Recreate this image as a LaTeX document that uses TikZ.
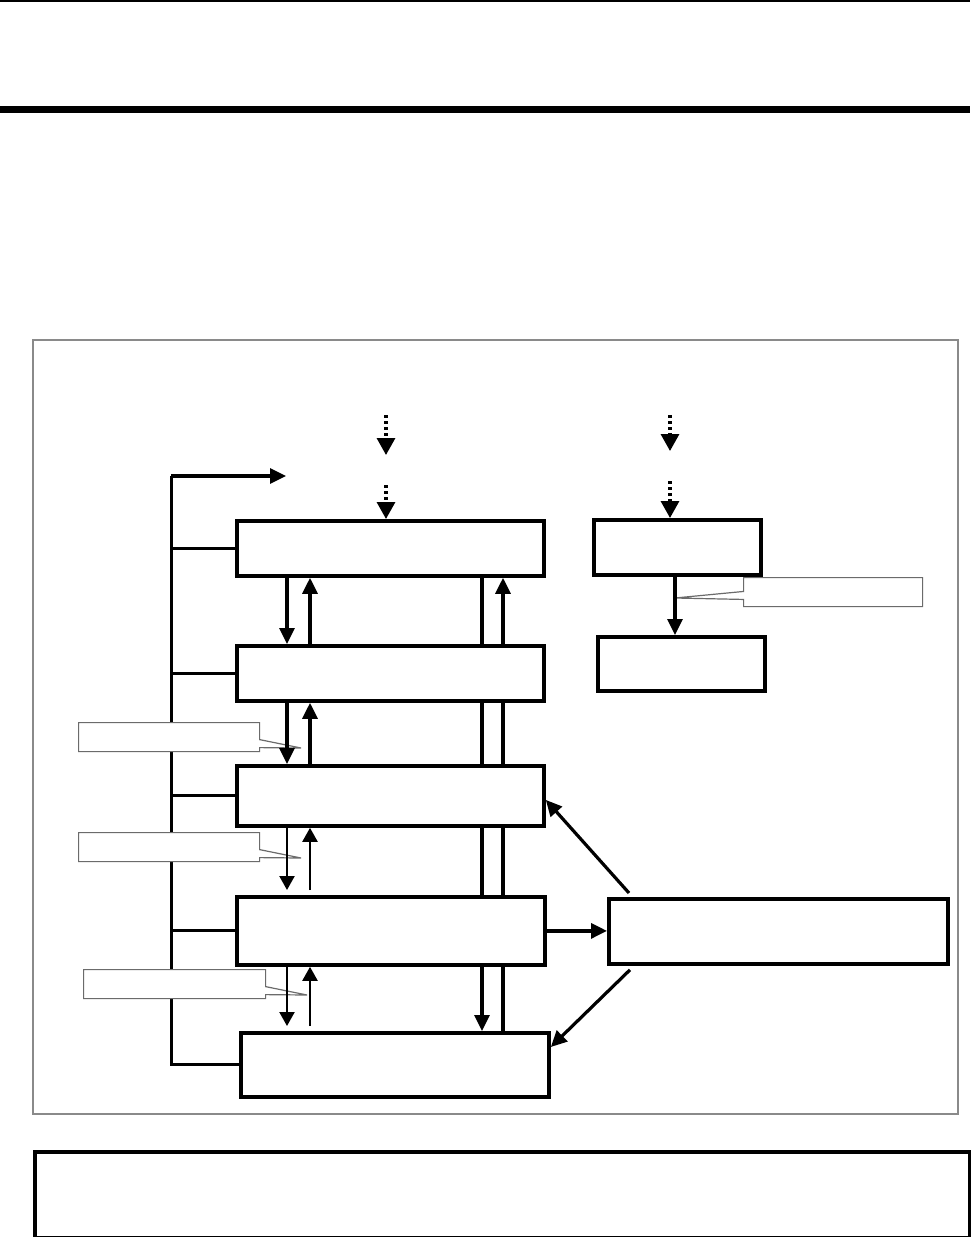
\documentclass[tikz,border=0pt]{standalone}
\usepackage{xcolor}
\usepackage{tikz}
\usetikzlibrary{arrows.meta,calc,backgrounds,shapes.callouts}
\definecolor{ink}{HTML}{000000}
\definecolor{frame}{HTML}{8A8A8A}
\definecolor{tagline}{HTML}{6B6B6B}
\definecolor{shade}{HTML}{A6A6A6}
\tikzset{
  wh/.style 2 args={minimum width=#1*0.5pt, minimum height=#2*0.5pt},
  blk/.style={rectangle, draw=ink, fill=white, line width=1.9pt, inner sep=0pt,
              anchor=north west},
  tag/.style={rectangle callout, draw=tagline, fill=white, line width=0.6pt,
              inner sep=0pt, anchor=north west, callout pointer width=4pt},
  fl/.style={-{Triangle[length=8pt, width=7.5pt]}, draw=ink, line width=1.6pt},
  fls/.style={-{Triangle[length=7pt, width=7.5pt]}, draw=ink, line width=1.1pt},
  fld/.style={-{Triangle[length=8.5pt, width=9pt]}, draw=ink, line width=1.6pt,
              dash pattern=on 1.5pt off 1.5pt},
  bus/.style={draw=ink, line width=1.5pt}
}

\begin{document}
\begin{tikzpicture}[x=0.5pt, y=-0.5pt]
  \useasboundingbox (0,0) rectangle (970,1237);
  % page rules and frame
  \draw[ink, line width=0.6pt] (0,1) -- (970,1);
  \draw[shade, line width=1.4pt] (0,111.5) -- (970,111.5);
  \draw[ink, line width=2.2pt] (0,108.5) -- (970,108.5);
  \draw[frame, line width=1pt] (33,340) rectangle (958,1114);

  % left stack
  \node[blk, wh={307}{55}] (top) at (235,519) {};
  \node[blk, wh={307}{55}] (upper) at (235,644) {};
  \node[blk, wh={307}{60}] (mid) at (235,764) {};
  \node[blk, wh={308}{68}] (low) at (235,895) {};
  \node[blk, wh={308}{64}] (base) at (239,1031) {};
  % right side
  \node[blk, wh={167}{55}] (src) at (592,518) {};
  \node[blk, wh={167}{54}] (dst) at (596,635) {};
  \node[blk, wh={339}{65}] (hub) at (607,897) {};
  \node[blk, wh={935}{86}] (foot) at (33,1150) {};

  % columns
  \coordinate (bus) at (171,0);
  \coordinate (dn) at (287,0);
  \coordinate (up) at (310,0);
  \coordinate (vl) at (482,0);
  \coordinate (vr) at (503,0);
  \coordinate (sd) at (675,0);
  \coordinate (bustop) at (171,476);
  \coordinate (busout) at (286,476);

  % bus on the left
  \draw[bus] (bustop) -- (bus |- base.west) -- (base.west);
  \foreach \b in {top,upper,mid,low} \draw[bus] (bus |- \b.west) -- (\b.west);
  \draw[fl] (bustop) -- (busout);

  % long lines behind the stack
  \begin{scope}[on background layer]
    \draw[fl] (vl |- top.south) -- (vl |- base.north);
    \draw[fl] (vr |- base.north) -- (vr |- top.south);
  \end{scope}

  % tags
  \coordinate (t0) at (675,598);
  \coordinate (t1) at (301,748);
  \coordinate (t2) at (301,858);
  \coordinate (t3) at (307,995);
  \node[tag, wh={179}{29}, callout absolute pointer={(t0)}] (tag0) at (743,577) {};
  \node[tag, wh={181}{29}, callout absolute pointer={(t1)}] (tag1) at (78,722) {};
  \node[tag, wh={181}{29}, callout absolute pointer={(t2)}] (tag2) at (78,832) {};
  \node[tag, wh={182}{29}, callout absolute pointer={(t3)}] (tag3) at (83,969) {};

  % up and down between the layers
  \draw[fl] (dn |- top.south) -- (dn |- upper.north);
  \draw[fl] (up |- upper.north) -- (up |- top.south);
  \draw[fl] (dn |- upper.south) -- (dn |- mid.north);
  \draw[fl] (up |- mid.north) -- (up |- upper.south);
  \foreach \a/\b in {mid/low, low/base} {
    \draw[fls, shorten >=2.5pt] (dn |- \a.south) -- (dn |- \b.north);
    \draw[fls, shorten <=2.5pt] (up |- \b.north) -- (up |- \a.south);
  }

  % dotted inputs
  \coordinate (in1) at (386,415); \coordinate (in1e) at (386,455);
  \coordinate (in2) at (386,485);
  \coordinate (in3) at (670,415); \coordinate (in3e) at (670,451);
  \coordinate (in4) at (670,481);
  \draw[fld] (in1) -- (in1e);
  \draw[fld] (in2) -- (in2 |- top.north);
  \draw[fld] (in3) -- (in3e);
  \draw[fld] (in4) -- (in4 |- src.north);

  % right side links
  \draw[fl] (sd |- src.south) -- (sd |- dst.north);
  \draw[fl] (low.east) -- (low.east -| hub.west);
  \draw[fl] ($(hub.north west)+(22,-4)$) -- ($(mid.east)+(0,4)$);
  \draw[fl] ($(hub.south west)+(23,4)$) -- ($(base.north east)+(0,16)$);
\end{tikzpicture}
\end{document}
